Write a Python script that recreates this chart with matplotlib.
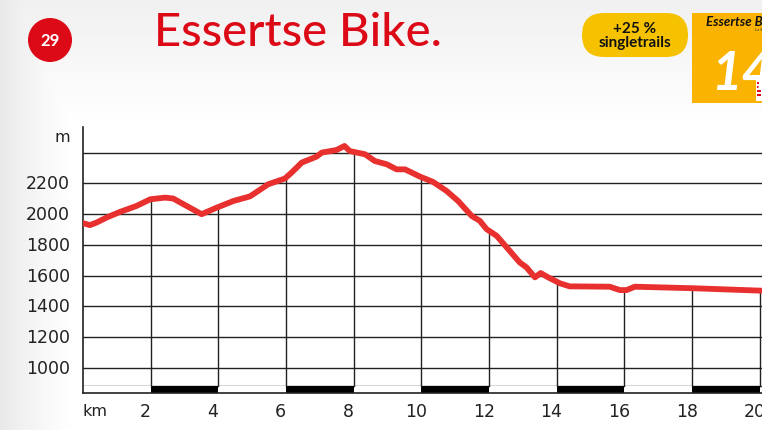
import numpy as np
import matplotlib.pyplot as plt
from matplotlib.patches import Circle, FancyBboxPatch, Rectangle

# elevation profile, distance in km and height in m
km = [0.0, 0.21, 0.41, 0.71, 1.10, 1.59, 1.99, 2.43, 2.67, 3.51, 3.96, 4.45,
      4.94, 5.48, 5.97, 6.17, 6.47, 6.91, 7.06, 7.50, 7.73, 7.89, 8.34, 8.63,
      8.98, 9.27, 9.52, 9.96, 10.35, 10.75, 11.09, 11.49, 11.73, 11.93, 12.23,
      12.62, 12.91, 13.11, 13.36, 13.53, 13.75, 14.10, 14.39, 14.59, 15.57,
      15.87, 16.07, 16.31, 18.04, 20.07]
elev = [1942, 1929, 1946, 1979, 2015, 2054, 2097, 2108, 2102, 2000, 2043, 2086,
        2116, 2195, 2232, 2271, 2336, 2375, 2401, 2418, 2444, 2411, 2390, 2346,
        2325, 2292, 2292, 2245, 2210, 2151, 2086, 1989, 1957, 1903, 1859,
        1760, 1686, 1654, 1589, 1617, 1589, 1550, 1530, 1530, 1528,
        1506, 1506, 1528, 1518, 1502]

y_ticks = [1000, 1200, 1400, 1600, 1800, 2000, 2200]
grid_levels = [1000, 1200, 1400, 1600, 1800, 2000, 2200, 2400]
x_ticks = [2, 4, 6, 8, 10, 12, 14, 16, 18, 20]

red = "#e8302f"
title_red = "#dc0a17"
font = ["Lato", "DejaVu Sans"]
num_font = ["DejaVu Sans"]

fig = plt.figure(figsize=(7.62, 4.31), dpi=100)

# soft grey shading along the top and left edges
bg = fig.add_axes([0, 0, 1, 1])
w, h = 762, 431
xx = np.linspace(0, 1, w)
yy = np.linspace(0, 1, h)
left = np.clip(1 - xx / 0.11, 0, 1) ** 1.5 * 0.09
top = np.clip(1 - yy / 0.3, 0, 1) * 0.06
shade = 1 - np.maximum(left[None, :], top[:, None])
bg.imshow(shade, cmap="gray", vmin=0, vmax=1, extent=[0, 1, 0, 1],
          aspect="auto", origin="upper")
bg.set_xlim(0, 1)
bg.set_ylim(0, 1)
bg.axis("off")

ax = fig.add_axes([0.1087, 0.0858, 0.8913, 0.617])
ax.set_xlim(0, 20.07)
ax.set_ylim(836, 2567)
ax.patch.set_alpha(0)

# horizontal grid
for lv in grid_levels:
    ax.axhline(lv, color="#222222", lw=1.0, zorder=1)

# km bar along the bottom
band_top = 879
ax.axhline(band_top, color="#333333", lw=1.0, zorder=1)
for i in range(0, 20, 2):
    col = "black" if (i // 2) % 2 == 1 else "white"
    ax.add_patch(Rectangle((i, 836), 2, band_top - 836, facecolor=col,
                           edgecolor="none", zorder=2))

# vertical lines up to the profile
for t in x_ticks:
    top_y = np.interp(t, km, elev)
    ax.plot([t, t], [band_top, top_y], color="#222222", lw=1.0, zorder=2)

ax.plot(km, elev, color=red, lw=4.2, solid_capstyle="round",
        solid_joinstyle="round", zorder=4)

for side in ["top", "right"]:
    ax.spines[side].set_visible(False)
ax.spines["left"].set_color("#222222")
ax.spines["bottom"].set_color("#222222")
ax.spines["left"].set_linewidth(1.2)
ax.spines["bottom"].set_linewidth(1.2)
ax.tick_params(length=0)
ax.set_xticks([])
ax.set_yticks([])

for v in y_ticks:
    ax.text(-0.38, v, str(v), ha="right", va="center", fontsize=12.5,
            family=num_font, color="#222222")
ax.text(-0.38, 2505, "m", ha="right", va="center", fontsize=11.5,
        family=num_font, color="#222222")
ax.text(0.0, 722, "km", ha="left", va="center", fontsize=11.5,
        family=num_font, color="#222222")
for t in x_ticks:
    ax.text(t - 0.15, 722, str(t), ha="center", va="center", fontsize=12.5,
            family=num_font, color="#222222", clip_on=False)

# header, drawn in pixel coordinates
hdr = fig.add_axes([0, 0, 1, 1], zorder=5)
hdr.set_xlim(0, w)
hdr.set_ylim(h, 0)
hdr.axis("off")
hdr.add_patch(Circle((50, 41), 22, facecolor=title_red, edgecolor="none"))
hdr.text(50, 41, "29", ha="center", va="center", color="white",
         fontsize=12, fontweight="bold", family=font)
hdr.text(154, 33, "Essertse Bike.", ha="left", va="center", color=title_red,
         fontsize=34, fontweight="medium", family=font)

# singletrails badge
hdr.add_patch(FancyBboxPatch((582, 14), 106, 44,
                             boxstyle="round,pad=0,rounding_size=22",
                             facecolor="#f6c200", edgecolor="none"))
hdr.text(635, 36, "+25 %\nsingletrails", ha="center", va="center",
         fontsize=11, fontweight="bold", family=font, linespacing=1.0,
         color="#111111")

# route marker board
hdr.add_patch(Rectangle((692, 14), 72, 90, facecolor="#f9b300",
                        edgecolor="none"))
hdr.text(706, 22, "Essertse Bike", ha="left", va="center", fontsize=9.5,
         fontweight="bold", style="italic", family=font, color="#111111")
hdr.text(755, 30, "La Sage", ha="left", va="center", fontsize=3,
         family=font, color="#333333")
hdr.text(711, 74, "14", ha="left", va="center", fontsize=38,
         fontweight="bold", style="italic", family=font, color="white")
hdr.add_patch(Rectangle((756, 80), 6, 22, facecolor="white",
                        edgecolor="none"))
for yy_ in [83, 87, 91, 95]:
    hdr.add_patch(Rectangle((757, yy_), 4, 1.5, facecolor=title_red,
                            edgecolor="none"))

fig.savefig("out.png", dpi=100)
